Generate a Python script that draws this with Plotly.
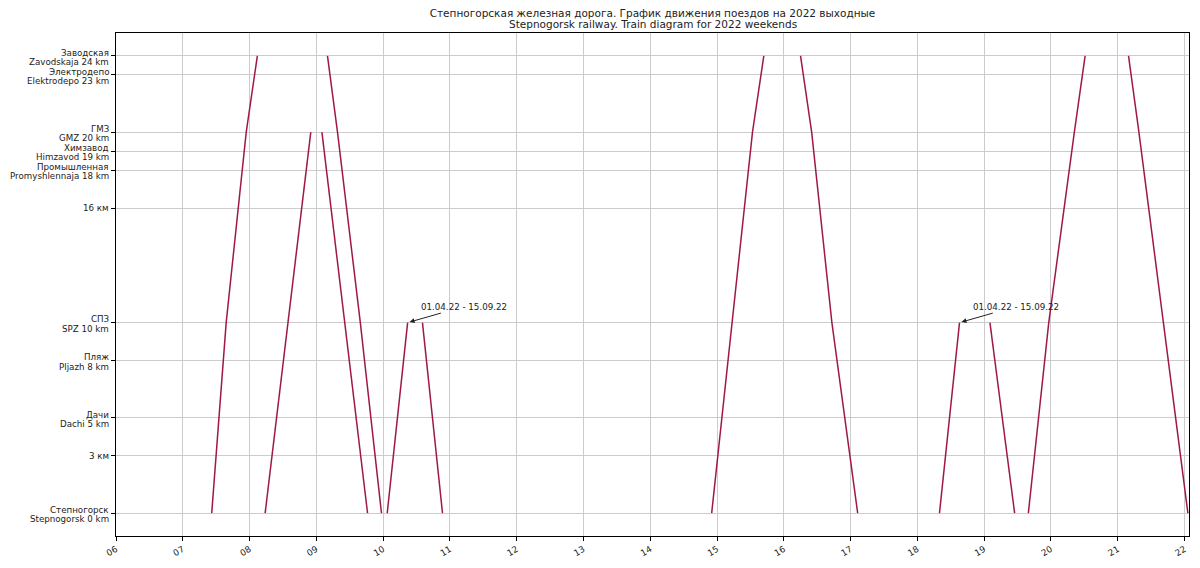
import plotly.graph_objects as go

DATE = "2022-04-02"

# Stations (km from Stepnogorsk) and their two-line labels
station_km = [0, 3, 5, 8, 10, 16, 18, 19, 20, 23, 24]
station_ru = ["Степногорск", "3 км", "Дачи", "Пляж", "СПЗ", "16 км",
              "Промышленная", "Химзавод", "ГМЗ", "Электродепо", "Заводская"]
station_en = ["Stepnogorsk 0 km", "", "Dachi 5 km", "Pljazh 8 km", "SPZ 10 km", "",
              "Promyshlennaja 18 km", "Himzavod 19 km", "GMZ 20 km",
              "Elektrodepo 23 km", "Zavodskaja 24 km"]

# Train runs: times (HH:MM:SS) and positions (km)
t1_times = ["07:26:00", "07:39:00", "07:57:00", "08:07:00"]
t1_km = [0, 10, 20, 24]
t2_times = ["08:14:00", "08:34:30", "08:55:00"]
t2_km = [0, 10, 20]
t3_times = ["09:05:00", "09:25:30", "09:46:00"]
t3_km = [20, 10, 0]
t4_times = ["09:10:00", "09:19:00", "09:39:30", "09:58:30"]
t4_km = [24, 20, 10, 0]
t5_times = ["10:03:40", "10:22:00"]
t5_km = [0, 10]
t6_times = ["10:35:20", "10:53:20"]
t6_km = [10, 0]
t7_times = ["14:55:10", "15:13:10", "15:31:50", "15:42:00"]
t7_km = [0, 10, 20, 24]
t8_times = ["16:15:00", "16:25:00", "16:43:10", "17:06:20"]
t8_km = [24, 20, 10, 0]
t9_times = ["18:19:50", "18:37:50"]
t9_km = [0, 10]
t10_times = ["19:05:10", "19:27:20"]
t10_km = [10, 0]
t11_times = ["19:39:40", "19:58:00", "20:21:00", "20:30:40"]
t11_km = [0, 10, 20, 24]
t12_times = ["21:09:40", "21:19:00", "21:41:00", "22:03:00"]
t12_km = [24, 20, 10, 0]

note_text = "01.04.22 - 15.09.22"
note_times = ["10:22:00", "18:37:50"]
note_km = [10, 10]

title_ru = "Степногорская железная дорога. График движения поездов на 2022 выходные"
title_en = "Stepnogorsk railway. Train diagram for 2022 weekends"

x_start = "06:00:00"
x_end = "22:04:00"

LINE_COLOR = "#a01848"
FONT = "DejaVu Sans"
TICK_FS = 8.7

# page body adds an 8px margin; size the figure so it fits the 1200x568 window
W, H = 1192, 560

trains = [
    (t1_times, t1_km), (t2_times, t2_km), (t3_times, t3_km), (t4_times, t4_km),
    (t5_times, t5_km), (t6_times, t6_km), (t7_times, t7_km), (t8_times, t8_km),
    (t9_times, t9_km), (t10_times, t10_km), (t11_times, t11_km), (t12_times, t12_km),
]


def dt(t):
    return f"{DATE} {t}"


fig = go.Figure()
for times, kms in trains:
    fig.add_trace(go.Scatter(
        x=[dt(t) for t in times], y=kms, mode="lines",
        line=dict(color=LINE_COLOR, width=1.5),
        showlegend=False, hoverinfo="skip",
    ))

annotations = []
# Station labels on the y axis
for km, ru, en in zip(station_km, station_ru, station_en):
    if en:
        annotations.append(dict(x=0, xref="paper", y=km, yref="y", text=ru,
                                xanchor="right", yanchor="middle", xshift=-5, yshift=3.3,
                                showarrow=False, font=dict(size=TICK_FS, color="#222", family=FONT)))
        annotations.append(dict(x=0, xref="paper", y=km, yref="y", text=en,
                                xanchor="right", yanchor="middle", xshift=-5, yshift=-6.3,
                                showarrow=False, font=dict(size=TICK_FS, color="#222", family=FONT)))
    else:
        annotations.append(dict(x=0, xref="paper", y=km, yref="y", text=ru,
                                xanchor="right", yanchor="middle", xshift=-5, yshift=0,
                                showarrow=False, font=dict(size=TICK_FS, color="#222", family=FONT)))

# Seasonal notes with arrows
for t, km in zip(note_times, note_km):
    annotations.append(dict(x=dt(t), y=km, xref="x", yref="y", text=note_text,
                            showarrow=True, ax=56, ay=-16, arrowhead=2, arrowsize=1,
                            arrowwidth=1, arrowcolor="#222", standoff=2,
                            font=dict(size=TICK_FS, color="#222", family=FONT)))

# Second title line
annotations.append(dict(x=0.5, xref="paper", y=1, yref="paper", text=title_en,
                        xanchor="center", yanchor="middle", yshift=9, showarrow=False,
                        font=dict(size=10.5, color="#222", family=FONT)))

fig.update_layout(
    width=W, height=H,
    margin=dict(l=108, r=10, t=25, b=30),
    paper_bgcolor="white", plot_bgcolor="white",
    font=dict(family=FONT, size=TICK_FS, color="#222"),
    title=dict(text=title_ru, x=0.5, xref="paper", xanchor="center",
               y=1 - 5.3 / H, yref="container", yanchor="middle",
               font=dict(size=10.5, color="#222", family=FONT)),
    showlegend=False,
    annotations=annotations,
)

fig.update_xaxes(
    type="date", range=[dt(x_start), dt(x_end)],
    tick0=dt(x_start), dtick=3600000, tickformat="%H", tickangle=-30,
    ticks="outside", ticklen=4, tickcolor="black",
    showgrid=True, gridcolor="#cccccc", gridwidth=1,
    showline=True, linecolor="black", linewidth=1, mirror=True,
    zeroline=False, tickfont=dict(size=TICK_FS, family=FONT, color="#222"),
)
fig.update_yaxes(
    range=[-1.2, 25.2], tickvals=station_km, showticklabels=False,
    ticks="outside", ticklen=4, tickcolor="black",
    showgrid=True, gridcolor="#cccccc", gridwidth=1,
    showline=True, linecolor="black", linewidth=1, mirror=True,
    zeroline=False,
)

fig.write_html("out.html")
